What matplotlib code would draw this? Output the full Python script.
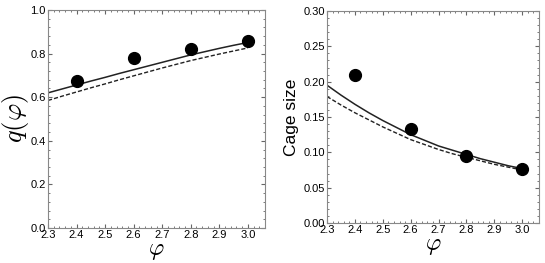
import matplotlib.pyplot as plt
from matplotlib.ticker import MultipleLocator, AutoMinorLocator

plt.rcParams['font.family'] = ['Liberation Sans', 'DejaVu Sans']
plt.rcParams['mathtext.fontset'] = 'cm'

# data
phi_pts = [2.4, 2.6, 2.8, 3.0]
q_pts = [0.675, 0.78, 0.823, 0.858]
cage_pts = [0.209, 0.133, 0.095, 0.077]

phi_line = [2.3, 2.35, 2.4, 2.45, 2.5, 2.55, 2.6, 2.65, 2.7, 2.75, 2.8, 2.85, 2.9, 2.95, 3.0]
q_solid = [0.62, 0.638, 0.656, 0.674, 0.691, 0.709, 0.726, 0.743, 0.76, 0.777,
           0.794, 0.809, 0.824, 0.838, 0.851]
q_dashed = [0.585, 0.605, 0.624, 0.643, 0.661, 0.68, 0.698, 0.716, 0.734, 0.751,
            0.768, 0.783, 0.798, 0.812, 0.826]
cage_solid = [0.195, 0.181, 0.168, 0.156, 0.145, 0.135, 0.125, 0.117, 0.109, 0.103,
              0.097, 0.091, 0.086, 0.081, 0.077]
cage_dashed = [0.179, 0.167, 0.156, 0.146, 0.136, 0.127, 0.118, 0.111, 0.104, 0.098,
               0.093, 0.088, 0.083, 0.079, 0.075]

fig = plt.figure(figsize=(5.45, 2.63), dpi=100)
ax1 = fig.add_axes([48/545, 35/263, 217/545, 218/263])
ax2 = fig.add_axes([327/545, 40/263, 212/545, 212/263])

def style(ax):
    for s in ax.spines.values():
        s.set_color('#888888')
        s.set_linewidth(0.8)
    ax.tick_params(which='both', direction='in', top=True, right=True,
                   labelsize=8, color='#666666', pad=1.5)
    ax.tick_params(which='major', length=3)
    ax.tick_params(which='minor', length=1.5)
    ax.xaxis.set_major_locator(MultipleLocator(0.1))
    ax.xaxis.set_minor_locator(AutoMinorLocator(5))
    ax.yaxis.set_minor_locator(AutoMinorLocator(5))
    ax.set_xlim(2.3, 3.06)

ax1.plot(phi_line, q_solid, '-', color='#222222', lw=1.1)
ax1.plot(phi_line, q_dashed, '--', color='#222222', lw=1.0, dashes=(3, 1.5))
ax1.plot(phi_pts, q_pts, 'o', color='black', ms=8.5)
style(ax1)
ax1.set_ylim(0, 1.0)
ax1.yaxis.set_major_locator(MultipleLocator(0.2))
ax1.set_xlabel(r'$\varphi$', fontsize=17, labelpad=0)
ax1.set_ylabel(r'$q(\varphi)$', fontsize=19, labelpad=0)

ax2.plot(phi_line, cage_solid, '-', color='#222222', lw=1.1)
ax2.plot(phi_line, cage_dashed, '--', color='#222222', lw=1.0, dashes=(3, 1.5))
ax2.plot(phi_pts, cage_pts, 'o', color='black', ms=8.5)
style(ax2)
ax2.set_ylim(0, 0.30)
ax2.yaxis.set_major_locator(MultipleLocator(0.05))
ax2.set_xlabel(r'$\varphi$', fontsize=17, labelpad=0)
ax2.set_ylabel('Cage size', fontsize=12.5, labelpad=3)

fig.savefig('out.png', dpi=100)
